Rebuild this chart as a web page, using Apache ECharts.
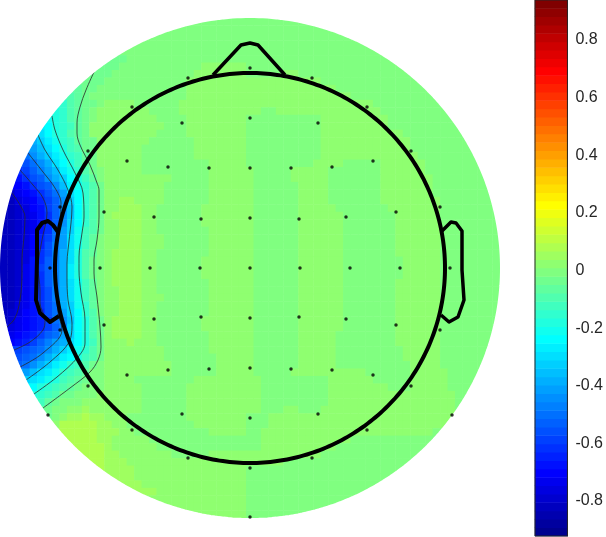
<!DOCTYPE html>
<html>
<head>
<meta charset="utf-8">
<style>html,body{margin:0;padding:0;background:#fff}#c{width:606px;height:537px}</style>
<script src="https://cdn.jsdelivr.net/npm/echarts@6/dist/echarts.min.js"></script>
</head>
<body>
<div id="c"></div>
<script>
// Scalp map cells: one row per line, top to bottom. Each token is a colour level
// (base 36, 0..63 scale) and the column where that run stops. Past the last run: level v.
var mapRows = [
"","","","","",
"v14 u17",
"v13 u16 v27 w33",
"v12 u15 v26 w33 v38 w40",
"u14 v25 w43",
"t11 u13 v25 w45",
"s10 t11 u12 v25 w47",
"q9 s10 t11 u13 v14 w18 v24 w50",
"p8 q9 s10 t11 u12 v13 w20 v24 w35 v37 w51",
"o7 p8 q9 s10 t11 u12 v13 w21 v25 w33 v43 w52",
"m6 n7 p8 q9 r10 t11 u12 w22 v25 w33 v43 w52",
"l6 n7 p8 q9 s10 t11 u12 w21 v25 w33 v43 w54",
"i5 k6 m7 o8 q9 r10 t11 u13 w20 v26 w33 v43 w55",
"h5 j6 l7 n8 p9 r10 s11 u13 w19 v26 w33 v43 w55",
"e4 g5 i6 k7 m8 o9 q10 r11 t12 u13 w19 v26 w33 v43 w56",
"c4 e5 g6 i7 l8 n9 p10 r11 t12 u13 w19 v28 w33 v42 w46 v51 w57",
"a3 b4 d5 f6 h7 j8 m9 o10 q11 s12 u13 v14 w19 v28 w34 v39 w44 v51 w57",
"83 a4 c5 d6 g7 i8 k9 n10 p11 r12 t13 v14 w23 v28 w34 v39 w44 v51 w58",
"73 84 a5 c6 d7 g8 j9 m10 o11 q12 s13 u14 w22 v28 w34 v40 w44 v51 w58",
"42 63 74 85 a6 c7 e8 h9 l10 n11 q12 s13 u14 w22 v28 w34 v40 w44 v51 w58",
"32 53 64 75 96 b7 d8 g9 k10 n11 q12 s13 u14 w16 x18 w22 v28 w34 v40 w44 v51 w59",
"32 43 54 75 86 b7 d8 g9 j10 n11 q12 s13 u14 w16 x19 w21 v27 w34 v40 w45 v52 w59",
"32 43 54 65 86 a7 d8 g9 j10 n11 q12 s13 u14 w15 x19 w21 v27 w34 v40 w46 v53 w59",
"32 43 54 65 86 a7 d8 g9 k10 n11 q12 s13 u14 w16 x19 w21 v27 w34 v40 w46 v53 w59",
"32 43 54 65 86 a7 e8 h9 k10 o11 r12 s13 u14 w16 x19 w21 v28 w34 v40 w46 v53 w59",
"32 43 54 75 96 b7 e8 h9 l10 o11 r12 t13 v14 w16 x19 w22 v28 w34 v40 w46 v53 w59",
"32 43 54 75 96 c7 f8 h9 l10 o11 r12 t13 v14 w16 x19 w22 v28 w34 v40 w46 v53 w59",
"32 43 54 75 a6 c7 f8 i9 l10 p11 s12 t13 v14 w15 x19 w21 v28 w34 v40 w46 v53 w59",
"32 43 54 85 a6 d7 f8 i9 l10 p11 s12 u13 v14 w15 x19 w21 v27 w34 v40 w46 v54 w59",
"32 43 64 85 b6 d7 f8 i9 m10 p11 s12 u13 v14 w15 x19 w21 v27 w34 v40 w46 v54 w59",
"32 43 64 85 a6 d7 f8 i9 m10 p11 s12 u13 v14 w15 x19 w21 v27 w34 v40 w46 v54 w59",
"32 43 64 85 a6 d7 f8 i9 l10 o11 r12 t13 v14 w15 x19 w21 v28 w34 v40 w46 v53 w59",
"32 43 64 85 a6 c7 f8 i9 l10 o11 r12 t13 v14 w16 x19 w21 v28 w34 v40 w46 v53 w59",
"32 43 64 85 a6 c7 f8 i9 l10 o11 r12 t13 v14 w16 x19 w22 v28 w34 v40 w46 v53 w59",
"32 53 64 85 a6 c7 e8 i9 k10 o11 q12 t13 v14 w16 x19 w21 v28 w34 v40 w46 v53 w59",
"31 42 53 74 85 96 c7 e8 h9 k10 n11 q12 s13 v14 w16 x19 w21 v28 w34 v40 w46 v53 w59",
"31 42 63 74 85 96 b7 e8 g9 j10 n11 p12 s13 u14 w15 x19 w21 v27 w34 v40 w46 v53 w59",
"52 63 74 85 96 b7 d8 f9 k10 n11 p12 s13 u14 w15 x19 w21 v27 w34 v40 w46 v53 w59",
"62 73 84 95 b6 d7 e8 h9 k10 n11 p12 s13 u14 w15 x19 w21 v28 w34 v40 w45 v53 w59",
"72 83 94 b5 d6 f7 h8 i9 l10 n11 p12 r13 u14 w17 x18 w21 v28 w34 v40 w45 v53 w59",
"b3 c4 d5 e6 g7 i8 k9 m10 o11 q12 s13 u14 w22 v28 w34 v40 w45 v54 w59",
"c3 d4 e5 g6 i7 k8 m9 n10 p11 r12 s13 u14 w22 v29 w34 v40 w45 v54 w59",
"d3 e4 g5 i6 k7 m8 o9 q10 r11 s12 u13 v14 w23 v29 w34 v40 w45 v55 w59",
"h4 j5 l6 m7 o8 q9 r10 s11 t12 v14 w23 v29 w34 v39 w49 v55 w60",
"k4 l5 m6 o7 p8 r9 s10 t11 u12 v14 w18 v26 w35 v44 w50 v55 w60",
"n5 p6 q7 r8 s9 t10 u11 v14 w19 v25 w35 v44 w52 v55 w60",
"p5 q6 r7 s8 u10 v13 w19 v25 w35 v44 w61",
"r6 t7 u8 v11 w19 v25 w35 v44 w61",
"t6 u7 v9 w11 x12 w19 v25 w35 v38 w40 v43 w61",
"u7 v8 w9 x11 y12 x14 w17 v25 w33 v36 w61",
"w8 y13 x15 w17 v26 w33 v36 w61",
"x8 y13 x16 w18 v28 w33 v35 w58",
"y13 x15 w20 v35 w47",
"y14 x15 w21 v35 w45",
"y14 x16 w23 v28 w43",
"y14 x17 w38",
"y14 x18 w33",
"x18 w33",
"x19 w33",
"x21 w33",
"w33","w33","w33"
];
var gridSize = 67;
var colorLevels = 64;
var colorRange = 0.93;
var colorbarTicks = [-0.8, -0.6, -0.4, -0.2, 0, 0.2, 0.4, 0.6, 0.8];

// Contour lines, scalp-plane units, centre of the head at 0,0
var contour1 = [[-156,196],[-164,178],[-170,161],[-173,145],[-173,135],[-170,123],[-160,103],[-153,85],[-151,78],[-151,51],[-153,28],[-156,8],[-156,-5],[-153,-29],[-150,-59],[-149,-79],[-152,-92],[-160,-104],[-180,-120],[-207,-140]];
var contour2 = [[-198,152],[-195,138],[-187,118],[-175,95],[-167,75],[-166,51],[-168,35],[-171,11],[-171,-2],[-169,-25],[-165,-52],[-165,-75],[-172,-89],[-193,-109],[-216,-126]];
var contour3 = [[-212,133],[-205,118],[-192,98],[-182,78],[-178,61],[-179,45],[-182,18],[-183,5],[-183,-9],[-182,-32],[-178,-55],[-181,-74],[-200,-94],[-224,-112]];
var contour4 = [[-222,115],[-207,96],[-195,80],[-189,65],[-190,48],[-193,28],[-195,0],[-194,-22],[-192,-44],[-188,-62],[-207,-85],[-230,-99]];
var contour5 = [[-230,98],[-217,83],[-207,70],[-203,55],[-208,28],[-212,0],[-210,-22],[-210,-35],[-205,-52],[-207,-62],[-220,-74],[-236,-82]];
var contour6 = [[-238,75],[-230,63],[-225,51],[-226,31],[-228,8],[-228,-5],[-230,-32],[-235,-50],[-243,-59]];

var electrodes = [[0,200],[-62,190],[62,190],[-118,161],[117,161],[-68,145],[0,150],[68,145],[-162,117],[161,117],[-123,107],[123,107],[-82,101],[-41,100],[0,100],[41,100],[82,101],[-190,61],[190,61],[-146,56],[146,56],[-96,51],[96,51],[-49,49],[49,49],[0,50],[-200,0],[-150,0],[-100,0],[-50,0],[0,0],[50,0],[100,0],[150,0],[200,0],[-146,-57],[146,-57],[-190,-62],[190,-62],[-96,-51],[96,-51],[-49,-49],[49,-49],[0,-50],[-162,-118],[161,-118],[-123,-107],[123,-107],[-82,-102],[82,-102],[-41,-101],[41,-101],[0,-100],[-202,-147],[202,-147],[-68,-146],[68,-146],[0,-150],[-118,-162],[117,-162],[-62,-190],[62,-190],[0,-200],[0,-249]];

var earLeft = [[-192,36],[-197,43],[-202,47],[-208,45],[-213,38],[-213,8],[-214,-32],[-210,-45],[-200,-54],[-191,-48]];
var earRight = [[191,36],[201,46],[206,45],[212,37],[212,-2],[214,-32],[208,-49],[199,-54],[191,-47]];
var nose = [[-37,193],[-9,223],[0,225],[8,223],[35,193]];
var headRadius = 195;
var mapRadius = 250;

function jet(i){
  var t=(i+1)/64;
  function c(o){var v=Math.max(0,Math.min(1,1.5-Math.abs(4*t-o)));return ('0'+Math.round(v*255).toString(16)).slice(-2);}
  return '#'+c(3)+c(2)+c(1);
}
var jetColors=[];for(var i=0;i<colorLevels;i++)jetColors.push(jet(i));

var cols=[],rowsIdx=[];for(i=0;i<gridSize;i++){cols.push(i);rowsIdx.push(i);}
var mapData=[];
var half=mapRadius*1.035, cell=2*mapRadius/gridSize;
mapRows.forEach(function(spec,r){
  var tokens=spec?spec.split(' '):[],c=0;
  function put(level,end){
    for(;c<end;c++){
      var dx=(c+0.5)*cell-mapRadius,dy=(r+0.5)*cell-mapRadius;
      if(Math.sqrt(dx*dx+dy*dy)<=half)mapData.push([c,r,level]);
    }
  }
  tokens.forEach(function(t){put(parseInt(t[0],36),parseInt(t.slice(1),10));});
  put(31,gridSize);
});
var barCats=[],barData=[];
for(i=0;i<colorLevels;i++){barCats.push(i);barData.push([0,i,i]);}

function circle(rad){var p=[];for(var a=0;a<=360;a++){var t=a*Math.PI/180;p.push([rad*Math.cos(t),rad*Math.sin(t)]);}return p;}
function contourSeries(d){return {type:'line',xAxisIndex:1,yAxisIndex:1,data:d,showSymbol:false,symbol:'none',smooth:0.35,silent:true,z:3,lineStyle:{color:'#2a2a2a',width:0.8}};}
function headSeries(d,w,z){return {type:'line',xAxisIndex:1,yAxisIndex:1,data:d,showSymbol:false,symbol:'none',silent:true,clip:false,z:z||6,lineStyle:{color:'#000',width:w,join:'round'}};}
var barFrame=[[0,-colorRange],[0,colorRange],[1,colorRange],[1,-colorRange],[0,-colorRange]];

var chart=echarts.init(document.getElementById('c'),null,{renderer:'canvas'});
chart.setOption({
  animation:false,
  backgroundColor:'#fff',
  grid:[{left:0,top:18,width:500,height:500,containLabel:false},{left:535,top:0,width:34,height:536,containLabel:false}],
  xAxis:[
    {type:'category',gridIndex:0,data:cols,show:false},
    {type:'value',gridIndex:0,min:-250,max:250,show:false},
    {type:'category',gridIndex:1,data:['bar'],show:false},
    {type:'value',gridIndex:1,min:0,max:1,show:false}
  ],
  yAxis:[
    {type:'category',gridIndex:0,data:rowsIdx,inverse:true,show:false},
    {type:'value',gridIndex:0,min:-250,max:250,show:false},
    {type:'category',gridIndex:1,data:barCats,show:false},
    {type:'value',gridIndex:1,min:-colorRange,max:colorRange,position:'right',
      axisLine:{show:true,lineStyle:{color:'#262626',width:1}},
      axisTick:{show:true,inside:true,length:5,customValues:colorbarTicks,lineStyle:{color:'#262626',width:1}},
      axisLabel:{show:true,margin:8,customValues:colorbarTicks,color:'#262626',fontFamily:'Liberation Sans',fontSize:16,
        formatter:function(v){return '{t|'+v+'}';},
        rich:{t:{color:'#262626',fontFamily:'Liberation Sans',fontSize:16,padding:[5,0,0,0]}}},
      splitLine:{show:false}}
  ],
  visualMap:{show:false,type:'continuous',min:0,max:colorLevels-1,dimension:2,seriesIndex:[0,1],inRange:{color:jetColors}},
  series:[
    {type:'heatmap',xAxisIndex:0,yAxisIndex:0,data:mapData,progressive:0,silent:true,z:1},
    {type:'heatmap',xAxisIndex:2,yAxisIndex:2,data:barData,progressive:0,silent:true,z:1},
    contourSeries(contour1),contourSeries(contour2),contourSeries(contour3),
    contourSeries(contour4),contourSeries(contour5),contourSeries(contour6),
    {type:'line',xAxisIndex:1,yAxisIndex:1,data:circle(mapRadius+14),showSymbol:false,symbol:'none',silent:true,z:4,lineStyle:{color:'#fff',width:28}},
    headSeries(circle(headRadius),4),
    headSeries(earLeft,4),headSeries(earRight,3.5),headSeries(nose,3.5),
    {type:'scatter',xAxisIndex:1,yAxisIndex:1,data:electrodes,symbol:'circle',symbolSize:3.5,silent:true,clip:false,z:7,itemStyle:{color:'#000'}},
    {type:'line',xAxisIndex:3,yAxisIndex:3,data:barFrame,showSymbol:false,symbol:'none',silent:true,clip:false,z:5,lineStyle:{color:'#262626',width:1}}
  ]
});
</script>
</body>
</html>
